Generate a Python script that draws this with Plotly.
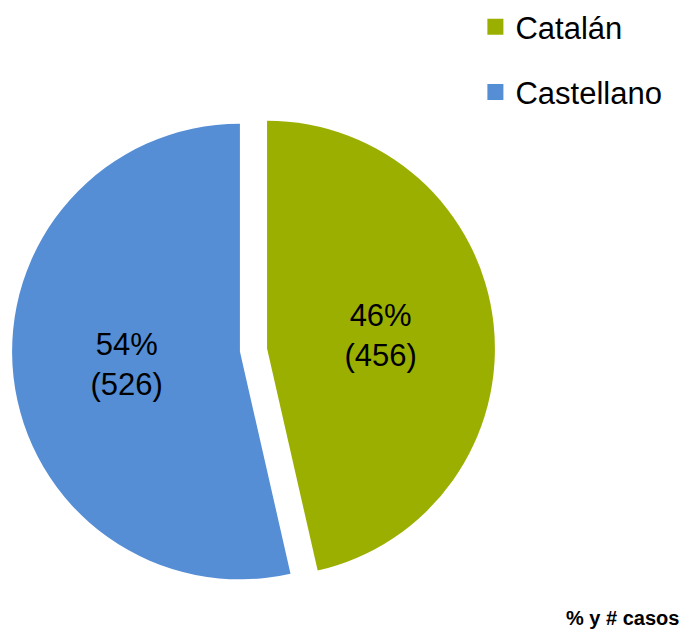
import plotly.graph_objects as go

labels = ["Catalán", "Castellano"]
values = [456, 526]
colors = ["#9BAF00", "#558ED5"]
pulls = [0.06, 0.06]
note = "% y # casos"

W, H = 686, 631
cx, cy = 253.5, 350.0
ext = 241.5
FONT = "Liberation Sans, Arial"

fig = go.Figure()
fig.add_trace(go.Pie(
    labels=labels, values=values, sort=False, direction="clockwise", rotation=0,
    pull=pulls, marker=dict(colors=colors, line=dict(width=0)),
    texttemplate="%{percent:.0%}<br>(%{value})", textposition="inside",
    insidetextorientation="horizontal",
    textfont=dict(family=FONT, size=31, color="black"),
    showlegend=False,
    domain=dict(x=[(cx - ext) / W, (cx + ext) / W], y=[(H - cy - ext) / H, (H - cy + ext) / H]),
))
for lab, col in zip(labels, colors):
    fig.add_trace(go.Scatter(
        x=[None], y=[None], mode="markers", name=lab, legendgroup=lab,
        marker=dict(symbol="square", size=16, color=col),
    ))

fig.update_layout(
    width=W, height=H, margin=dict(l=0, r=0, t=0, b=0),
    paper_bgcolor="white", plot_bgcolor="white",
    xaxis=dict(visible=False), yaxis=dict(visible=False),
    font=dict(family=FONT, color="black"),
    legend=dict(x=0.693, y=1.0, xanchor="left", yanchor="top",
                font=dict(size=31, family=FONT, color="black"),
                tracegroupgap=22, itemclick=False, bgcolor="rgba(0,0,0,0)"),
    annotations=[dict(text=note, x=1.0, y=0.0, xref="paper", yref="paper",
                      xanchor="right", yanchor="bottom", xshift=-5, yshift=0, showarrow=False,
                      font=dict(size=20, family=FONT, color="black", weight="bold"))],
)
fig.write_html("out.html", config={"displayModeBar": False},
               post_script="document.body.style.margin='0';document.body.style.padding='0';")
